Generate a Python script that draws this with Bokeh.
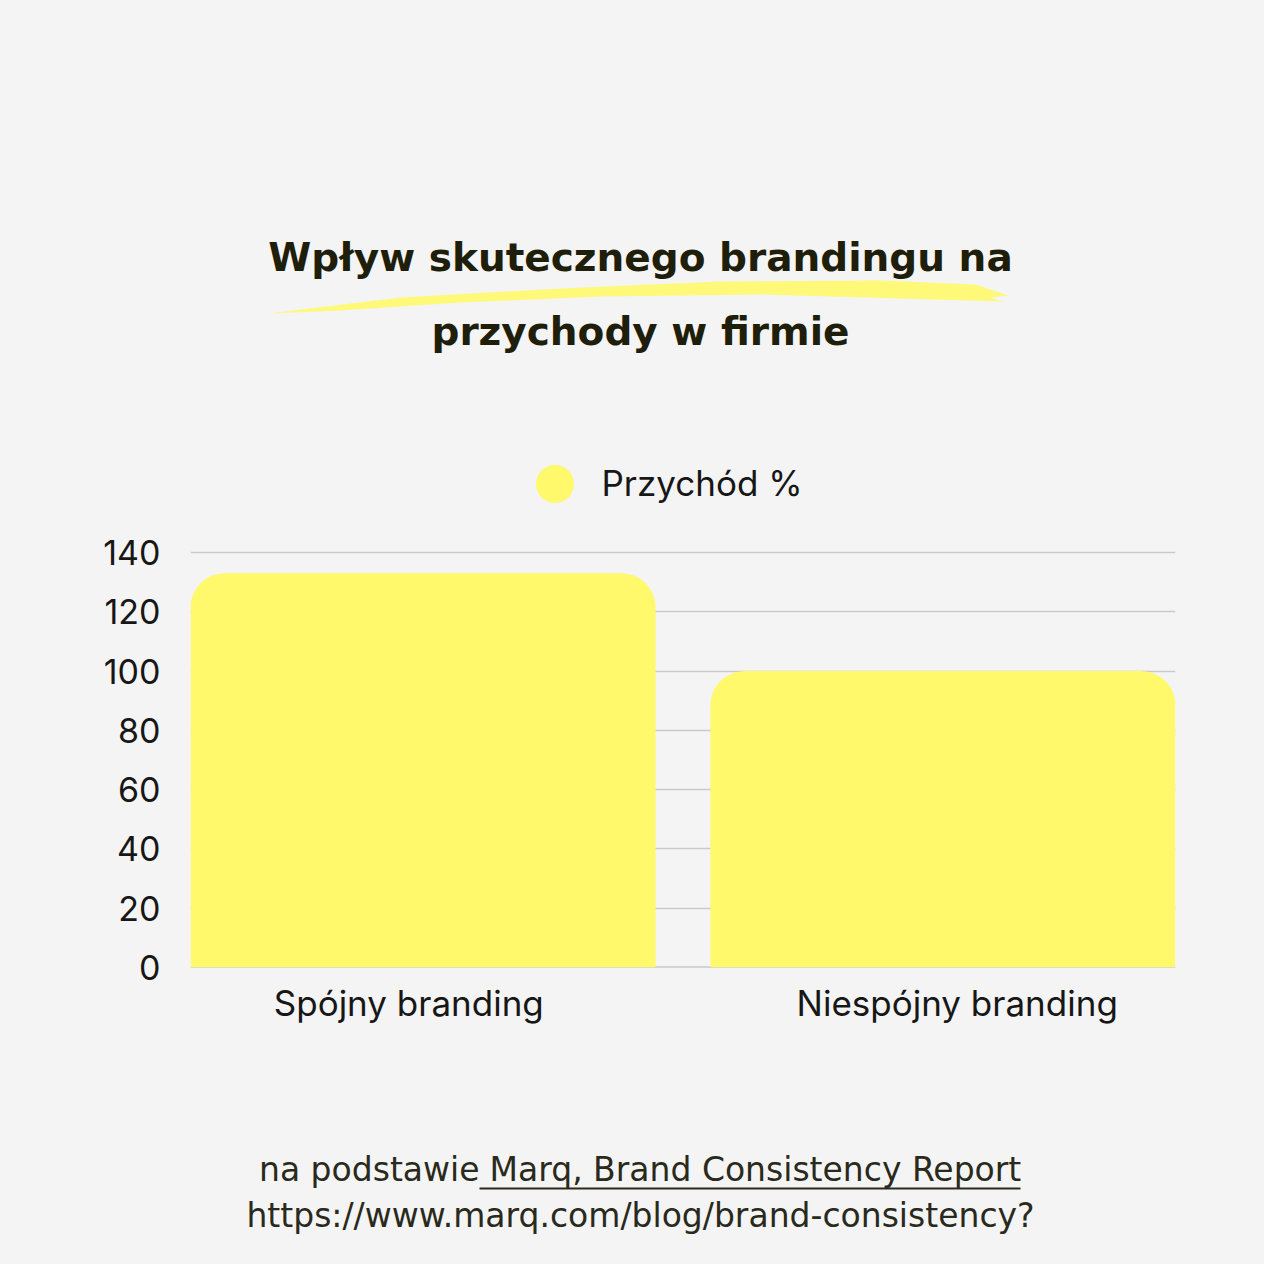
from bokeh.plotting import figure
from bokeh.layouts import column
from bokeh.models import (FactorRange, Range1d, Label, Legend, LegendItem, ColumnDataSource,
                          PolyAnnotation, BoxAnnotation, Span, FixedTicker)
from bokeh.embed import file_html
from bokeh.resources import INLINE

# ---- data ----
categories = ["Spójny branding", "Niespójny branding"]
revenue = [133, 100]
series_name = "Przychód %"
y_ticks = [0, 20, 40, 60, 80, 100, 120, 140]
title_lines = ["Wpływ skutecznego brandingu na", "przychody w firmie"]
source_prefix = "na podstawie"
source_link = "Marq, Brand Consistency Report"
source_url = "https://www.marq.com/blog/brand-consistency?"

BG = "#F4F4F4"
BAR = "#FFF96B"
DARK = "#1E1E0A"
TXT = "#171717"
FOOT = "#2A2A1C"

W = 1264
H_MAIN = 1040
H_FOOT = W - H_MAIN
FRAME_L, FRAME_R, FRAME_B = 190, 1175, 967   # page pixels of the plot frame
Y_TOP_PX = 552                                 # pixel of the 140 gridline
y_end = y_ticks[-1] * FRAME_B / (FRAME_B - Y_TOP_PX)   # frame extends to the top
BASE_FIX = 13   # Bokeh's alphabetic baseline lands ~13px low


def sx(px):
    return px - FRAME_L


def sy(py):
    return FRAME_B - py


p = figure(width=W, height=H_MAIN, output_backend="svg", toolbar_location=None,
           x_range=FactorRange(factors=categories, range_padding=-0.102,
                               range_padding_units="absolute"),
           y_range=Range1d(0, y_end),
           min_border_left=FRAME_L, min_border_right=W - FRAME_R, min_border_top=0,
           min_border_bottom=H_MAIN - FRAME_B)
p.background_fill_color = None
p.border_fill_color = BG
p.outline_line_color = None

src = ColumnDataSource(dict(cat=categories, val=revenue))
p.vbar(x="cat", top="val", width=0.9, source=src, fill_color=BAR,
       line_color=None, border_radius=(34, 34, 0, 0))

# axes
p.yaxis.ticker = FixedTicker(ticks=y_ticks)
for ax in (p.xaxis, p.yaxis):
    ax.axis_line_color = None
    ax.major_tick_line_color = None
    ax.minor_tick_line_color = None
    ax.major_tick_out = 0
    ax.major_tick_in = 0
    ax.minor_tick_out = 0
    ax.major_label_text_font = "Inter"
    ax.major_label_text_font_size = "34px"
    ax.major_label_text_color = TXT
p.xaxis.major_label_text_font_size = "35px"
p.yaxis.major_label_standoff = 30
p.xaxis.major_label_standoff = 14
p.xgrid.grid_line_color = None
p.ygrid.grid_line_color = "#C9C9C9"
p.ygrid.grid_line_width = 1.5
p.ygrid.ticker = FixedTicker(ticks=y_ticks)
p.add_layout(Span(location=0, dimension="width", line_color="#B3B3B3",
                  line_width=2, level="underlay"))

# legend (a hidden scatter of the same series supplies the round swatch)
dot = p.scatter(x="cat", y="val", source=src, marker="circle", fill_color=BAR,
                line_color=None, visible=False)
legend = Legend(items=[LegendItem(label=series_name, renderers=[dot])],
                location=(sx(554) - 47.5, sy(483) - 47.5),
                glyph_width=95, glyph_height=95, label_standoff=0,
                padding=0, margin=0, border_line_color=None,
                background_fill_alpha=0, inactive_fill_alpha=0,
                label_text_font="Inter",
                label_text_font_size="35px", label_text_color=TXT,
                label_text_baseline="middle", click_policy="none")
p.add_layout(legend, "center")

# brush stroke under the title
stroke_x = [268, 400, 560, 720, 880, 975, 1008, 990, 1002, 900, 760, 600, 460, 340]
stroke_y = [313, 297, 288, 281, 280, 284, 295, 297, 301, 298, 294, 296, 302, 310]
p.add_layout(PolyAnnotation(xs=[sx(v) for v in stroke_x], ys=[sy(v) for v in stroke_y],
                            xs_units="screen", ys_units="screen",
                            fill_color=BAR, fill_alpha=0.9, line_color=None))

# title
for txt, base in zip(title_lines, [270, 344]):
    p.add_layout(Label(x=sx(640), y=sy(base - BASE_FIX), x_units="screen", y_units="screen",
                       text=txt, text_align="center", text_baseline="alphabetic",
                       text_font="DejaVu Sans", text_font_style="bold",
                       text_font_size="39px", text_color=DARK))

# footer (source) in its own canvas whose data units are page pixels
f = figure(width=W, height=H_FOOT, output_backend="svg", toolbar_location=None,
           x_range=Range1d(FRAME_L, FRAME_R), y_range=Range1d(W, H_MAIN),
           x_axis_type=None, y_axis_type=None,
           min_border_left=FRAME_L, min_border_right=W - FRAME_R,
           min_border_top=0, min_border_bottom=0)
f.background_fill_color = None
f.border_fill_color = BG
f.outline_line_color = None
f.grid.visible = False

FOOT_SIZE = "33px"
f.add_layout(Label(x=479, y=1182 - BASE_FIX, text=source_prefix, text_align="right",
                   text_baseline="alphabetic", text_font="DejaVu Sans",
                   text_font_size=FOOT_SIZE, text_color=FOOT))
f.add_layout(Label(x=489, y=1182 - BASE_FIX, text=source_link, text_align="left",
                   text_baseline="alphabetic", text_font="DejaVu Sans",
                   text_font_size=FOOT_SIZE, text_color=FOOT))
f.add_layout(Label(x=640, y=1228 - BASE_FIX, text=source_url, text_align="center",
                   text_baseline="alphabetic", text_font="DejaVu Sans",
                   text_font_size=FOOT_SIZE, text_color=FOOT))
f.add_layout(BoxAnnotation(left=479, right=1020, top=1187, bottom=1189,
                           fill_color=FOOT, fill_alpha=1, line_color=None))

layout = column(p, f, spacing=0, styles={"background-color": BG})
open("out.html", "w").write(file_html(layout, INLINE))
